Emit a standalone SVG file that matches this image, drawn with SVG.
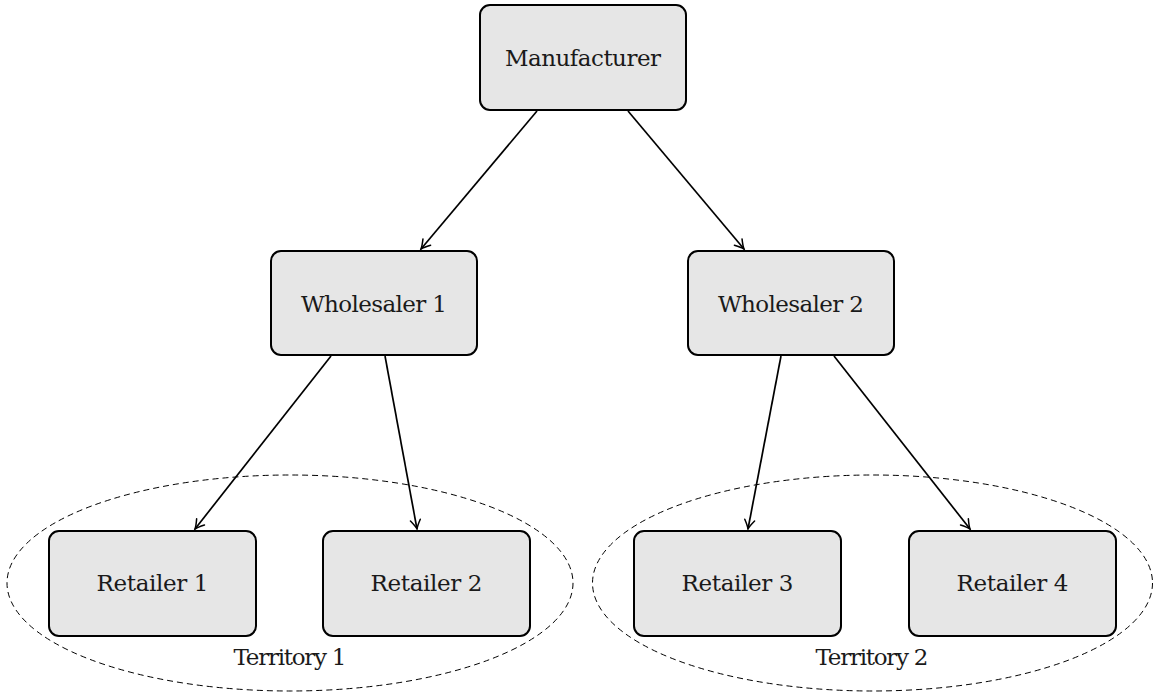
<svg xmlns="http://www.w3.org/2000/svg" width="1156" height="698" viewBox="0 0 1156 698">
<style>
.box{fill:#e6e6e6;stroke:#000;stroke-width:2}
.lbl{font-family:'DejaVu Serif','Liberation Serif',serif;font-size:23px;fill:#1a1a1a;text-anchor:middle}
.edge{stroke:#000;stroke-width:1.7;fill:none;marker-end:url(#ah)}
.terr{fill:none;stroke:#000;stroke-width:1;stroke-dasharray:6,4}
</style>
<defs>
<marker id="ah" viewBox="-11 -7 13 14" refX="0" refY="0" markerWidth="13" markerHeight="14" markerUnits="userSpaceOnUse" orient="auto">
<path d="M-9,-5 Q-3,-1 0,0 Q-3,1 -9,5" fill="none" stroke="#000" stroke-width="1.5" stroke-linecap="round"/>
</marker>
</defs>
<rect width="1156" height="698" fill="#fff"/>
<g id="territory1"><ellipse class="terr" cx="290" cy="583" rx="283" ry="108"/><text class="lbl" x="290" y="665" textLength="113">Territory 1</text></g>
<g id="territory2"><ellipse class="terr" cx="872.5" cy="583" rx="280" ry="108"/><text class="lbl" x="872" y="665" textLength="113">Territory 2</text></g>
<g id="connectors">
<line class="edge" x1="537" y1="111" x2="421" y2="249"/>
<line class="edge" x1="628" y1="111" x2="744" y2="249"/>
<line class="edge" x1="331" y1="356" x2="195" y2="529"/>
<line class="edge" x1="385" y1="356" x2="417" y2="529"/>
<line class="edge" x1="781" y1="356" x2="748" y2="529"/>
<line class="edge" x1="834" y1="356" x2="970" y2="529"/>
</g>
<g id="manufacturer"><rect class="box" x="480" y="5" width="206" height="105" rx="10"/><text class="lbl" x="583" y="66" textLength="156">Manufacturer</text></g>
<g id="wholesaler1"><rect class="box" x="271" y="251" width="206" height="104" rx="10"/><text class="lbl" x="374" y="312" textLength="146">Wholesaler 1</text></g>
<g id="wholesaler2"><rect class="box" x="688" y="251" width="206" height="104" rx="10"/><text class="lbl" x="791" y="312" textLength="146">Wholesaler 2</text></g>
<g id="retailer1"><rect class="box" x="49" y="531" width="207" height="105" rx="10"/><text class="lbl" x="152.5" y="591" textLength="112">Retailer 1</text></g>
<g id="retailer2"><rect class="box" x="323" y="531" width="207" height="105" rx="10"/><text class="lbl" x="426.5" y="591" textLength="112">Retailer 2</text></g>
<g id="retailer3"><rect class="box" x="634" y="531" width="207" height="105" rx="10"/><text class="lbl" x="737.5" y="591" textLength="112">Retailer 3</text></g>
<g id="retailer4"><rect class="box" x="909" y="531" width="207" height="105" rx="10"/><text class="lbl" x="1012.5" y="591" textLength="112">Retailer 4</text></g>
</svg>
